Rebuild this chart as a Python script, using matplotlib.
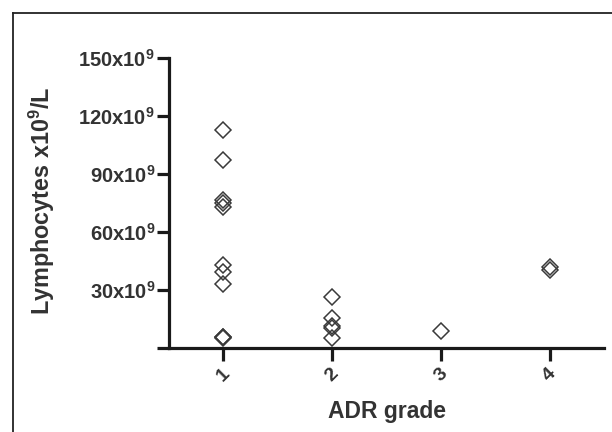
import matplotlib
matplotlib.use("Agg")
import matplotlib.pyplot as plt
from matplotlib.lines import Line2D

# Datos (linfocitos x10^9/L por grado ADR)
grades = [1, 2, 3, 4]
grade_labels = ["1", "2", "3", "4"]
grade1 = [112.8, 97.6, 76.8, 75.3, 73.2, 43.2, 39.5, 33.3, 5.3, 5.6, 6.0]
grade2 = [26.7, 15.5, 11.5, 10.4, 5.2]
grade3 = [9.0]
grade4 = [41.9, 40.3]
yticks = [0, 30, 60, 90, 120, 150]
ytick_labels = ["", "30x10$^{9}$", "60x10$^{9}$", "90x10$^{9}$", "120x10$^{9}$", "150x10$^{9}$"]

plt.rcParams["font.family"] = "Liberation Sans"
plt.rcParams["font.weight"] = "bold"
plt.rcParams["mathtext.fontset"] = "custom"
plt.rcParams["mathtext.rm"] = "Liberation Sans:bold"
plt.rcParams["mathtext.it"] = "Liberation Sans:bold"
plt.rcParams["mathtext.bf"] = "Liberation Sans:bold"
plt.rcParams["mathtext.default"] = "rm"

fig = plt.figure(figsize=(6.12, 4.32), dpi=100)
ax = fig.add_axes([169 / 612, 1 - 348.3 / 432, 435 / 612, 290 / 432])

grupos = [grade1, grade2, grade3, grade4]
for g, vals in zip(grades, grupos):
    ax.plot([g] * len(vals), vals, linestyle="none", marker="D", markersize=8,
            markerfacecolor="none", markeredgecolor="#3a3a3a", markeredgewidth=1.1,
            clip_on=False)

ax.set_xlim(0.5, 4.5)
ax.set_ylim(0, 150)
ax.set_xticks(grades)
ax.set_xticklabels(grade_labels, rotation=45, fontsize=14, color="#333333")
ax.set_yticks(yticks)
ax.set_yticklabels(ytick_labels, fontsize=14.5, color="#333333")

for s in ["top", "right"]:
    ax.spines[s].set_visible(False)
for s in ["left", "bottom"]:
    ax.spines[s].set_linewidth(2.3)
    ax.spines[s].set_color("#1a1a1a")
ax.tick_params(axis="both", direction="out", length=9, width=2.3, color="#1a1a1a")
ax.tick_params(axis="y", pad=1)
ax.tick_params(axis="x", pad=3)

ax.set_ylabel("Lymphocytes x10$^{9}$/L", fontsize=16.8, fontweight="bold", color="#333333")
ax.set_xlabel("ADR grade", fontsize=16.5, fontweight="bold", color="#333333")
ax.yaxis.set_label_coords(-0.258, 0.51)
ax.xaxis.set_label_coords(0.5, -0.178)

# marco exterior (solo arriba e izquierda visibles)
fig.add_artist(Line2D([13 / 612, 13 / 612], [0, 1 - 12.5 / 432], transform=fig.transFigure,
                      color="#222222", linewidth=1.3))
fig.add_artist(Line2D([13 / 612, 1], [1 - 12.5 / 432, 1 - 12.5 / 432], transform=fig.transFigure,
                      color="#222222", linewidth=1.3))

fig.savefig("out.png", dpi=100)
